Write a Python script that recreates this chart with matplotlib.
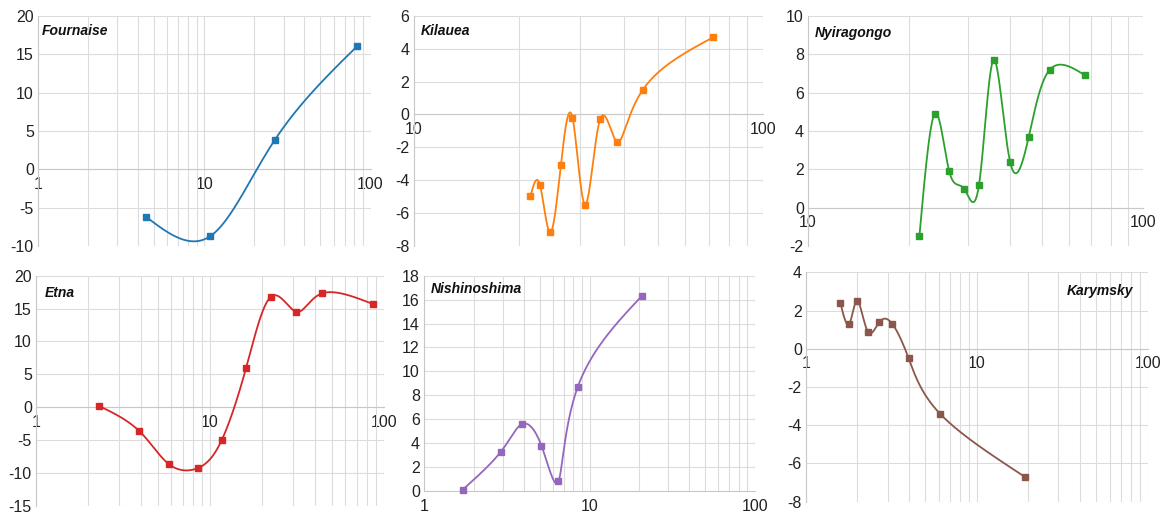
import numpy as np
import matplotlib
matplotlib.use("Agg")
import matplotlib.pyplot as plt
from matplotlib.ticker import FixedLocator, LogLocator, NullFormatter, FixedFormatter

plt.rcParams['font.family'] = ['Liberation Sans', 'DejaVu Sans']

# ---------------- data ----------------
fournaise_x = [4.47, 10.9, 26.5, 83.5]
fournaise_y = [-6.2, -8.7, 3.8, 16.1]

kilauea_x = [21.6, 23.0, 24.6, 26.4, 28.5, 31.0, 34.2, 38.3, 45.3, 72.0]
kilauea_y = [-5.0, -4.3, -7.2, -3.1, -0.2, -5.5, -0.3, -1.7, 1.5, 4.7]

nyiragongo_x = [21.5, 23.9, 26.4, 29.2, 32.4, 35.8, 40.1, 45.6, 52.7, 67.2]
nyiragongo_y = [-1.5, 4.9, 1.9, 1.0, 1.2, 7.7, 2.4, 3.7, 7.2, 6.9]

etna_x = [2.29, 3.90, 5.80, 8.52, 11.65, 16.1, 22.4, 31.3, 44.0, 86.1]
etna_y = [0.2, -3.6, -8.7, -9.3, -5.1, 5.9, 16.8, 14.5, 17.3, 15.7]

nishinoshima_x = [1.71, 2.92, 3.91, 5.12, 6.49, 8.49, 20.7]
nishinoshima_y = [0.1, 3.3, 5.6, 3.8, 0.8, 8.7, 16.3]

karymsky_x = [1.59, 1.79, 2.0, 2.30, 2.69, 3.20, 3.99, 6.09, 19.1]
karymsky_y = [2.4, 1.3, 2.5, 0.9, 1.4, 1.3, -0.5, -3.4, -6.7]

x_tick_values = [1, 10, 100]
x_tick_labels = ["1", "10", "100"]


# ---------------- helpers ----------------
def natural_spline(t, v, tt):
    t = np.asarray(t, float); v = np.asarray(v, float)
    n = len(t)
    h = np.diff(t)
    A = np.zeros((n, n)); b = np.zeros(n)
    A[0, 0] = 1.0; A[-1, -1] = 1.0
    for i in range(1, n - 1):
        A[i, i - 1] = h[i - 1]
        A[i, i] = 2 * (h[i - 1] + h[i])
        A[i, i + 1] = h[i]
        b[i] = 3 * ((v[i + 1] - v[i]) / h[i] - (v[i] - v[i - 1]) / h[i - 1])
    c = np.linalg.solve(A, b)
    a = v[:-1]
    bb = (v[1:] - v[:-1]) / h - h * (2 * c[:-1] + c[1:]) / 3
    d = (c[1:] - c[:-1]) / (3 * h)
    idx = np.clip(np.searchsorted(t, tt, side='right') - 1, 0, n - 2)
    dt = tt - t[idx]
    return a[idx] + bb[idx] * dt + c[idx] * dt ** 2 + d[idx] * dt ** 3


def smooth_curve(x, y):
    # parametric natural cubic spline with uniform parameter, in scaled (log-x) space
    u = np.log10(np.asarray(x, float))
    v = np.asarray(y, float)
    t = np.arange(len(u), dtype=float)
    tt = np.linspace(0, t[-1], 1200)
    return 10 ** natural_spline(t, u, tt), natural_spline(t, v, tt)


W, H = 1167, 515
fig = plt.figure(figsize=(W / 100, H / 100), dpi=100)

GRID = '#dcdcdc'
TICK_FS = 11.5
TITLE_FS = 10

panels = [
    # name, x, y, color, rect px (l, t, r, b), xlim, yticks, title pos px, ha
    ("Fournaise", fournaise_x, fournaise_y, '#1f77b4', (38, 16, 370.5, 246),
     (1, 100), np.arange(-10, 21, 5), (42, 31), 'left'),
    ("Kilauea", kilauea_x, kilauea_y, '#ff7f0e', (413.5, 16, 763, 245.5),
     (10, 100), np.arange(-8, 7, 2), (420.7, 31), 'left'),
    ("Nyiragongo", nyiragongo_x, nyiragongo_y, '#2ca02c', (808, 16, 1143, 246),
     (10, 100), np.arange(-2, 11, 2), (814.3, 32.7), 'left'),
    ("Etna", etna_x, etna_y, '#d62728', (36, 275.7, 384, 505.5),
     (1, 100), np.arange(-15, 21, 5), (45, 293.3), 'left'),
    ("Nishinoshima", nishinoshima_x, nishinoshima_y, '#9467bd', (424, 275.7, 755, 491),
     (1, 100), np.arange(0, 19, 2), (431, 289), 'left'),
    ("Karymsky", karymsky_x, karymsky_y, '#8c564b', (806, 272.3, 1147.7, 501.7),
     (1, 100), np.arange(-8, 5, 2), (1133, 290.7), 'right'),
]

for name, xs, ys, color, (l, t, r, b), xlim, yticks, (tx, ty), ha in panels:
    ax = fig.add_axes([l / W, (H - b) / H, (r - l) / W, (b - t) / H])
    ax.set_xscale('log')
    ax.set_xlim(*xlim)
    ax.set_ylim(yticks[0], yticks[-1])
    ax.set_yticks(yticks)
    ax.set_yticklabels([str(v) for v in yticks])
    majors = [v for v in x_tick_values if xlim[0] <= v <= xlim[1]]
    ax.xaxis.set_major_locator(FixedLocator(majors))
    ax.xaxis.set_major_formatter(FixedFormatter([x_tick_labels[x_tick_values.index(v)] for v in majors]))
    ax.xaxis.set_minor_locator(LogLocator(base=10, subs=np.arange(2, 10)))
    ax.xaxis.set_minor_formatter(NullFormatter())
    ax.grid(True, axis='x', which='both', color=GRID, lw=0.8, zorder=0)
    ax.grid(True, axis='y', which='major', color=GRID, lw=0.8, zorder=0)
    for s in ('top', 'right'):
        ax.spines[s].set_visible(False)
    ax.spines['left'].set_color('#c8c8c8')
    ax.spines['left'].set_linewidth(0.8)
    ax.spines['bottom'].set_position(('data', 0))
    ax.spines['bottom'].set_color('#c8c8c8')
    ax.spines['bottom'].set_linewidth(0.8)
    ax.tick_params(axis='both', which='both', length=0, labelsize=TICK_FS, colors='#222222')
    ax.tick_params(axis='y', pad=3)
    ax.tick_params(axis='x', pad=5.5)
    ax.set_axisbelow(True)

    cx, cy = smooth_curve(xs, ys)
    ax.plot(cx, cy, color=color, lw=1.3, zorder=3, clip_on=False)
    ax.plot(xs, ys, ls='none', marker='s', ms=4, color=color, zorder=4, clip_on=False)

    fig.text(tx / W, 1 - ty / H, name, ha=ha, va='center', fontsize=TITLE_FS,
             fontweight='bold', fontstyle='italic', color='#111111')

fig.savefig('out.png', dpi=100)
